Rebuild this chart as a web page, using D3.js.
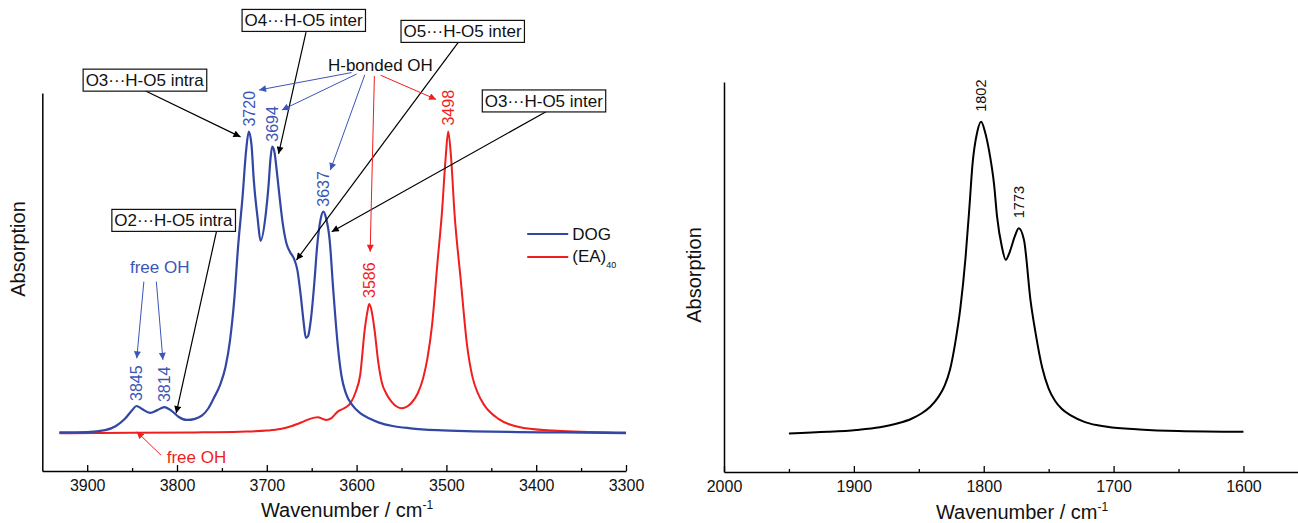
<!DOCTYPE html>
<html><head><meta charset="utf-8">
<script src="https://cdn.jsdelivr.net/npm/d3@7"></script>
<style>
body{margin:0;background:#fff}
text{font-family:"Liberation Sans",Arial,Helvetica,sans-serif}
</style>
</head><body>
<svg id="c" width="1298" height="523"></svg>
<script>
// ---------------- DATA ----------------
// Left panel: DOG (blue) and (EA)40 (red) OH-stretch spectra
const dogWavenumber = [3931,3900,3880,3868,3858,3850,3845,3839,3830,3822,3814,3806,3798,3789,3780,3772,3765,3759,3752,3746,3741,3736,3732,3727,3723,3720,3717,3714.5,3710,3707,3701,3698,3696,3694,3691.5,3689,3686,3682,3678,3674,3670,3666,3662,3659,3656.5,3654,3651,3647,3644,3640,3637,3634,3630,3626,3621,3617,3612,3605,3596,3585,3575,3560,3540,3510,3470,3420,3370,3300];
const dogAbsorbance = [0.102,0.103,0.108,0.119,0.138,0.161,0.172,0.164,0.154,0.161,0.169,0.159,0.143,0.135,0.138,0.147,0.166,0.193,0.228,0.275,0.345,0.460,0.593,0.725,0.849,0.898,0.862,0.770,0.664,0.609,0.683,0.757,0.823,0.858,0.844,0.796,0.730,0.651,0.601,0.579,0.563,0.532,0.460,0.394,0.352,0.357,0.399,0.500,0.593,0.667,0.686,0.669,0.611,0.479,0.333,0.254,0.206,0.175,0.153,0.138,0.128,0.119,0.113,0.108,0.105,0.103,0.102,0.100];

const eaWavenumber = [3931,3850,3780,3730,3700,3685,3672,3660,3652,3643,3638,3634,3628,3621,3614,3607,3601,3596,3591,3588,3586,3584,3580,3576,3572,3567,3561,3555,3550,3545,3539,3532,3526,3521,3516,3510,3505,3501,3498,3495,3491,3484,3477,3471,3465,3458,3442,3414,3372,3300];
const eaAbsorbance = [0.100,0.101,0.102,0.104,0.107,0.111,0.119,0.130,0.138,0.142,0.138,0.135,0.140,0.157,0.166,0.179,0.209,0.254,0.373,0.421,0.442,0.431,0.373,0.290,0.235,0.205,0.183,0.170,0.166,0.169,0.180,0.205,0.245,0.300,0.385,0.550,0.683,0.823,0.898,0.836,0.683,0.505,0.333,0.249,0.206,0.175,0.138,0.114,0.106,0.102];

// Right panel: C=O region
const rightWavenumber = [1950,1920,1898,1880,1866,1856,1848,1841,1835,1830,1826,1822,1818,1814,1811,1808.7,1805,1802,1799,1796,1792,1789.7,1786,1783,1780,1776,1773,1769,1764,1760,1755,1750,1745,1740,1733,1722,1705,1680,1650,1600];
const rightAbsorbance = [0.099,0.103,0.108,0.115,0.125,0.136,0.150,0.168,0.192,0.222,0.262,0.330,0.420,0.550,0.680,0.787,0.872,0.898,0.872,0.826,0.736,0.654,0.577,0.544,0.564,0.605,0.625,0.595,0.441,0.355,0.268,0.214,0.182,0.162,0.145,0.128,0.116,0.109,0.105,0.103];

const leftMajorTicks = [3900,3800,3700,3600,3500,3400,3300];
const leftMinorTicks = [3850,3750,3650,3550,3450,3350];
const rightMajorTicks = [2000,1900,1800,1700,1600];
const rightMinorTicks = [1950,1850,1750,1650];

const dogPeaks = [3845,3814,3720,3694,3637];
const eaPeaks = [3586,3498];
const rightPeaks = [1802,1773];

const seriesNames = ["DOG","(EA)"];

// annotation boxes: text, wavenumber of centre, absorbance of centre
const boxLabels = ["O3\u00B7\u00B7\u00B7H-O5 intra","O4\u00B7\u00B7\u00B7H-O5 inter","O5\u00B7\u00B7\u00B7H-O5 inter","O3\u00B7\u00B7\u00B7H-O5 inter","O2\u00B7\u00B7\u00B7H-O5 intra"];
const boxWn = [3836,3659,3482,3391.5,3804];
const boxAbs = [1.034,1.192,1.163,0.979,0.663];
// black arrows: from (wn,abs) to (wn,abs)
const blackArrowFrom = [[3835.5,1.006],[3656.3,1.161],[3487,1.133],[3388.6,0.951],[3756.1,0.633]];
const blackArrowTo   = [[3729.3,0.884],[3686.9,0.839],[3667,0.558],[3627.7,0.633],[3800.9,0.153]];
// coloured arrows
const blueArrowFrom = [[3605.6,1.054],[3600,1.050],[3590.9,1.048],[3836.9,0.501],[3823,0.501]];
const blueArrowTo   = [[3708.6,1.008],[3683.2,0.955],[3629.2,0.796],[3844.8,0.298],[3815.7,0.294]];
const redArrowFrom = [[3580.2,1.045],[3573.3,1.047],[3817.9,0.042]];
const redArrowTo   = [[3584.9,0.580],[3511.4,0.983],[3844.8,0.104]];

// ---------------- DRAW ----------------
const svg = d3.select("#c");
const BLUE = "#3246a3", BLUE_T = "#3b56b6", RED = "#f01e1e", BLACK = "#000";

const defs = svg.append("defs");
function marker(id, col){
  defs.append("marker").attr("id",id).attr("viewBox","0 0 10 10")
    .attr("refX",10).attr("refY",5).attr("markerWidth",8).attr("markerHeight",7)
    .attr("markerUnits","userSpaceOnUse").attr("orient","auto")
    .append("path").attr("d","M0,0 L10,5 L0,10 z").attr("fill",col);
}
marker("mk",BLACK); marker("mb",BLUE_T); marker("mr",RED);

function zip(a,b){ return a.map((v,i)=>[v,b[i]]); }

function panel(opts){
  const x = d3.scaleLinear().domain(opts.xDomain).range(opts.xRange);
  const y = d3.scaleLinear().domain([0,1]).range(opts.yRange);
  const g = svg.append("g");
  const y0 = opts.yRange[0];
  const ax = g.append("g").attr("transform",`translate(0,${y0})`)
    .call(d3.axisBottom(x).tickValues(opts.major).tickFormat(d3.format("d"))
      .tickSizeInner(-6).tickSizeOuter(0).tickPadding(9));
  ax.selectAll("text").attr("font-size",16).attr("fill","#111").style("font-family",'"Liberation Sans",Arial,sans-serif');
  ax.select(".domain").attr("stroke-width",1.5);
  ax.selectAll(".tick line").attr("stroke-width",1.3);
  const axm = g.append("g").attr("transform",`translate(0,${y0})`)
    .call(d3.axisBottom(x).tickValues(opts.minor).tickFormat("").tickSizeInner(-3).tickSizeOuter(0));
  axm.select(".domain").remove();
  axm.selectAll(".tick line").attr("stroke-width",1.3);
  const ay = g.append("g").attr("transform",`translate(${opts.xRange[0]},0)`)
    .call(d3.axisLeft(y).tickValues([]).tickSizeOuter(0));
  ay.select(".domain").attr("stroke-width",1.5);
  g.append("text").attr("x",opts.xlabX).attr("y",opts.xlabY).attr("text-anchor","middle")
    .attr("font-size",20).attr("fill","#111")
    .html('Wavenumber / cm<tspan dy="-8" font-size="12">-1</tspan>');
  g.append("text").attr("transform",`translate(${opts.ylabX},${opts.ylabY}) rotate(-90)`)
    .attr("text-anchor","middle").attr("font-size",20).attr("fill","#111").text("Absorption");
  return {x,y,g};
}

// ---- Left panel
const L = panel({xDomain:[3950,3300], xRange:[42.3,626], yRange:[471,93], major:leftMajorTicks, minor:leftMinorTicks,
  xlabX:347, xlabY:517, ylabX:25, ylabY:249});
const lineL = d3.line().x(d=>L.x(d[0])).y(d=>L.y(d[1])).curve(d3.curveMonotoneX);
const dogData = zip(dogWavenumber,dogAbsorbance);
const eaData = zip(eaWavenumber,eaAbsorbance);
L.g.append("path").datum(eaData).attr("d",lineL).attr("fill","none").attr("stroke",RED).attr("stroke-width",2);
L.g.append("path").datum(dogData).attr("d",lineL).attr("fill","none").attr("stroke",BLUE).attr("stroke-width",2.2);

function peakLabels(P, data, peaks, col, fs, gap){
  peaks.forEach(p=>{
    const d = data.find(e=>e[0]===p);
    const px = P.x(p), py = P.y(d[1]) - gap;
    P.g.append("text").attr("transform",`translate(${px + fs*0.36},${py}) rotate(-90)`)
      .attr("font-size",fs).attr("fill",col).text(p);
  });
}
peakLabels(L, dogData, dogPeaks, BLUE_T, 16, 5);
peakLabels(L, eaData, eaPeaks, RED, 16, 6);

function arrows(P, from, to, col, mk, w){
  from.forEach((f,i)=>{
    const t = to[i];
    P.g.append("line").attr("x1",P.x(f[0])).attr("y1",P.y(f[1])).attr("x2",P.x(t[0])).attr("y2",P.y(t[1]))
      .attr("stroke",col).attr("stroke-width",w).attr("marker-end",`url(#${mk})`);
  });
}
arrows(L, blackArrowFrom, blackArrowTo, BLACK, "mk", 1.2);
arrows(L, blueArrowFrom, blueArrowTo, BLUE_T, "mb", 1);
arrows(L, redArrowFrom, redArrowTo, RED, "mr", 1);

// boxes
boxLabels.forEach((t,i)=>{
  const cx = L.x(boxWn[i]), cy = L.y(boxAbs[i]);
  const bg = L.g.append("g");
  const rect = bg.append("rect");
  const tx = bg.append("text").attr("x",cx).attr("y",cy+6).attr("text-anchor","middle")
    .attr("font-size",17).attr("fill","#111").text(t);
  const bb = tx.node().getBBox();
  rect.attr("x",bb.x-2.5).attr("y",cy-11).attr("width",bb.width+5).attr("height",22)
    .attr("fill","#fff").attr("stroke","#111").attr("stroke-width",1.2);
});

// free text
L.g.append("text").attr("x",L.x(3573.5)).attr("y",L.y(1.059)).attr("text-anchor","middle")
  .attr("font-size",17).attr("fill","#111").text("H-bonded OH");
L.g.append("text").attr("x",L.x(3819.2)).attr("y",L.y(0.524)).attr("text-anchor","middle")
  .attr("font-size",17).attr("fill",BLUE_T).text("free OH");
L.g.append("text").attr("x",L.x(3778.3)).attr("y",L.y(0.021)).attr("text-anchor","middle")
  .attr("font-size",17).attr("fill",RED).text("free OH");

// legend
const lgX = L.x(3410), lgY = L.y(0.627);
L.g.append("line").attr("x1",lgX).attr("x2",lgX+41).attr("y1",lgY).attr("y2",lgY).attr("stroke",BLUE).attr("stroke-width",2);
L.g.append("text").attr("x",lgX+45).attr("y",lgY+6.5).attr("font-size",17).attr("fill","#111").text(seriesNames[0]);
L.g.append("line").attr("x1",lgX).attr("x2",lgX+41).attr("y1",lgY+23).attr("y2",lgY+23).attr("stroke",RED).attr("stroke-width",2);
L.g.append("text").attr("x",lgX+45).attr("y",lgY+28.5).attr("font-size",17).attr("fill","#111")
  .html(seriesNames[1]+'<tspan dy="6" font-size="9">40</tspan>');

// ---- Right panel
const R = panel({xDomain:[2000,1558], xRange:[724,1298], yRange:[472,82], major:rightMajorTicks, minor:rightMinorTicks,
  xlabX:1022, xlabY:519, ylabX:701, ylabY:275});
const lineR = d3.line().x(d=>R.x(d[0])).y(d=>R.y(d[1])).curve(d3.curveMonotoneX);
const rData = zip(rightWavenumber,rightAbsorbance);
R.g.append("path").datum(rData).attr("d",lineR).attr("fill","none").attr("stroke",BLACK).attr("stroke-width",2);
peakLabels(R, rData, rightPeaks, "#111", 14.5, 10);
</script>
</body></html>
